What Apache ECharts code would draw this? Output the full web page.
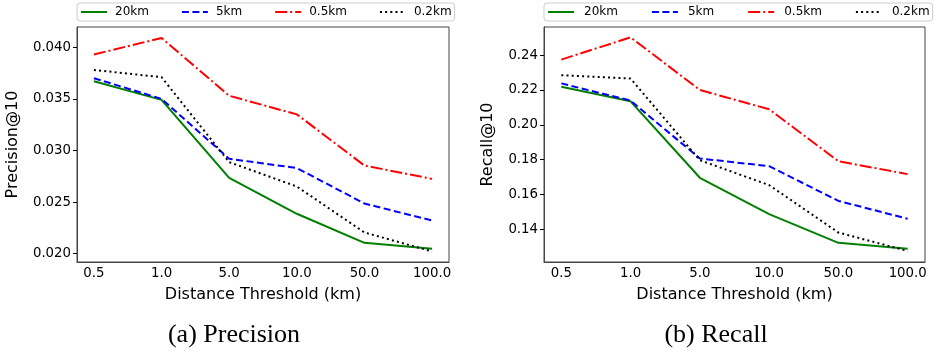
<!DOCTYPE html>
<html>
<head>
<meta charset="utf-8">
<script src="https://cdn.jsdelivr.net/npm/echarts@6/dist/echarts.min.js"></script>
<style>html,body{margin:0;padding:0;background:#fff}#c{width:935px;height:351px}</style>
</head>
<body>
<div id="c"></div>
<script>
const categories = ['0.5', '1.0', '5.0', '10.0', '50.0', '100.0'];
const seriesNames = ['20km', '5km', '0.5km', '0.2km'];

const precision20 = [0.0367, 0.0349, 0.02735, 0.02387, 0.02106, 0.02048];
const precision5 = [0.0370, 0.0350, 0.0292, 0.0283, 0.02486, 0.02322];
const precision05 = [0.0393, 0.0409, 0.0353, 0.0335, 0.02854, 0.02725];
const precision02 = [0.0378, 0.0371, 0.02887, 0.02651, 0.02206, 0.02022];

const recall20 = [0.2219, 0.2135, 0.1695, 0.1486, 0.1321, 0.1287];
const recall5 = [0.2238, 0.2139, 0.1806, 0.1762, 0.1562, 0.1459];
const recall05 = [0.2375, 0.2503, 0.2200, 0.2089, 0.1790, 0.1716];
const recall02 = [0.2285, 0.2266, 0.1796, 0.1653, 0.1380, 0.1274];

const precisionTicks = [0.020, 0.025, 0.030, 0.035, 0.040];
const recallTicks = [0.14, 0.16, 0.18, 0.20, 0.22, 0.24];

const styles = [
  {color: '#008000', type: 'solid'},
  {color: '#0000ff', type: [7, 3.5]},
  {color: '#ff0000', type: [12, 3, 2, 3]},
  {color: '#000000', type: [2, 3.2]}
];

const chart = echarts.init(document.getElementById('c'), null, {renderer: 'canvas'});
const font = 'DejaVu Sans';
const idx = categories.map((_, i) => i);

function xAxis(gi) {
  return {
    type: 'value', gridIndex: gi, min: -0.25, max: 5.25,
    name: 'Distance Threshold (km)', nameLocation: 'middle', nameGap: 25,
    nameTextStyle: {fontFamily: font, fontSize: 16, color: '#000'},
    axisLine: {show: true, onZero: false, lineStyle: {color: '#444', width: 1}}, splitLine: {show: false},
    axisTick: {show: false},
    axisLabel: {customValues: idx, margin: 5, fontFamily: font, fontSize: 13.3, color: '#000',
      formatter: v => categories[Math.round(v)]}
  };
}
function yAxis(gi, min, max, ticks, dec, name, gap) {
  return {
    type: 'value', gridIndex: gi, min: min, max: max,
    name: name, nameLocation: 'middle', nameGap: gap, nameRotate: 90,
    nameTextStyle: {fontFamily: font, fontSize: 16, color: '#000'},
    axisLine: {show: true, onZero: false, lineStyle: {color: '#444', width: 1}}, splitLine: {show: false},
    axisTick: {show: true, inside: false, customValues: ticks, length: 4, lineStyle: {color: '#000', width: 1}},
    axisLabel: {customValues: ticks, margin: 6, fontFamily: font, fontSize: 13.3, color: '#000',
      formatter: v => v.toFixed(dec)}
  };
}
function makeSeries(gi, arrays) {
  return arrays.map((arr, k) => ({
    name: seriesNames[k], type: 'line', xAxisIndex: gi, yAxisIndex: gi,
    symbol: 'none', animation: false,
    data: arr.map((v, i) => [i, v]),
    lineStyle: {color: styles[k].color, width: 2, type: styles[k].type, cap: 'butt'},
    itemStyle: {color: styles[k].color}
  }));
}
function legend(left, gap, textPad) {
  return {
    left: left, top: 3, orient: 'horizontal', data: seriesNames,
    itemWidth: 26, itemHeight: 12, itemGap: gap,
    padding: [3, 3, 3, 3],
    borderColor: '#cccccc', borderWidth: 1, borderRadius: 3, backgroundColor: '#fff',
    itemStyle: {opacity: 0},
    textStyle: {fontFamily: font, fontSize: 12, color: '#000', padding: [0, 0, 0, textPad]},
    selectedMode: false
  };
}

chart.setOption({
  animation: false,
  backgroundColor: '#fff',
  grid: [
    {left: 77, top: 27, width: 372, height: 235, show: true, borderColor: '#444', borderWidth: 1, backgroundColor: 'transparent'},
    {left: 544, top: 27, width: 381, height: 235, show: true, borderColor: '#444', borderWidth: 1, backgroundColor: 'transparent'}
  ],
  xAxis: [xAxis(0), xAxis(1)],
  yAxis: [
    yAxis(0, 0.0192, 0.04196, precisionTicks, 3, 'Precision@10', 56),
    yAxis(1, 0.12106, 0.25624, recallTicks, 2, 'Recall@10', 48)
  ],
  legend: [legend(77, 32, 3), legend(544, 33, 5)],
  series: makeSeries(0, [precision20, precision5, precision05, precision02])
    .concat(makeSeries(1, [recall20, recall5, recall05, recall02])),
  graphic: [
    {type: 'text', x: 234, y: 335, style: {text: '(a) Precision', font: '26px "Liberation Serif"', fill: '#000', align: 'center', verticalAlign: 'middle'}},
    {type: 'text', x: 716, y: 335, style: {text: '(b) Recall', font: '26px "Liberation Serif"', fill: '#000', align: 'center', verticalAlign: 'middle'}}
  ]
});
</script>
</body>
</html>
